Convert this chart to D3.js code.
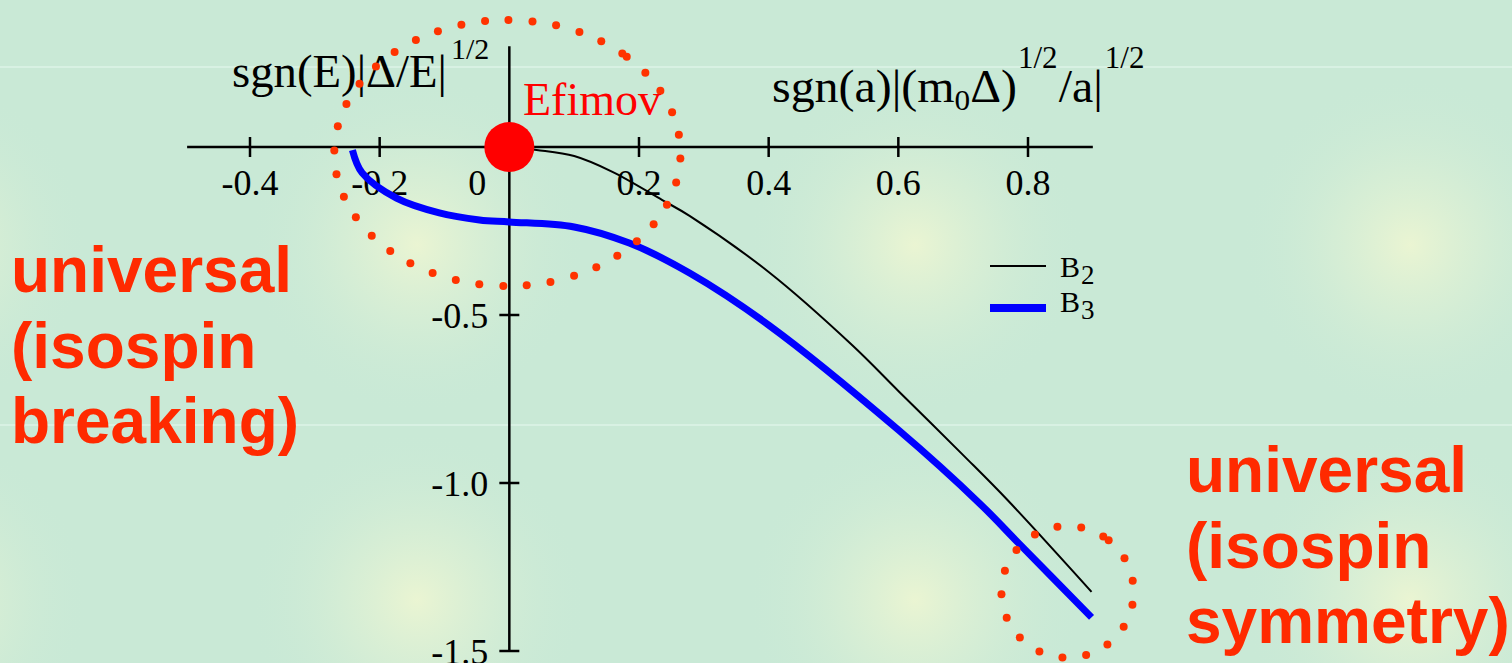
<!DOCTYPE html>
<html>
<head>
<meta charset="utf-8">
<script src="https://cdn.jsdelivr.net/npm/d3@7"></script>
<style>
  html, body { margin: 0; padding: 0; background: #c9e9d6; overflow: hidden; }
  svg { display: block; }
</style>
</head>
<body>
<svg id="chart" width="1512" height="663"></svg>
<script>
// values
const b2X = [0, 0.042, 0.1, 0.159, 0.236, 0.278, 0.4, 0.529, 0.6, 0.7, 0.768, 0.898];
const b2Y = [0, -0.009, -0.027, -0.074, -0.158, -0.205, -0.372, -0.59, -0.726, -0.917, -1.05, -1.324];
const b3X = [-0.242, -0.227, -0.174, -0.108, -0.046, 0, 0.1, 0.185, 0.278, 0.4, 0.6, 0.725, 0.787, 0.898];
const b3Y = [-0.009, -0.077, -0.152, -0.196, -0.217, -0.223, -0.238, -0.286, -0.375, -0.53, -0.842, -1.06, -1.182, -1.40];
const xTicks = [-0.4, -0.2, 0, 0.2, 0.4, 0.6, 0.8];
const xTickLabels = ["-0.4", "-0.2", "0", "0.2", "0.4", "0.6", "0.8"];
const yTicks = [-0.5, -1.0, -1.5];
const yTickLabels = ["-0.5", "-1.0", "-1.5"];
const seriesNames = ["B", "B"];
const seriesSubs = ["2", "3"];
const ringX = [-0.003, 0.861];
const ringY = [-0.018, -1.324];
const ringRX = [0.267, 0.102];
const ringRY = [0.396, 0.196];
const leftNote = ["universal", "(isospin", "breaking)"];
const rightNote = ["universal", "(isospin", "symmetry)"];

const width = 1512, height = 663;
const serif = "'Liberation Serif', 'Times New Roman', serif";
const orange = "#ff2a00";

const svg = d3.select("#chart");
const x = d3.scaleLinear().domain([-0.4, 0.8]).range([250, 1028]);
const y = d3.scaleLinear().domain([0, -1.5]).range([147, 651]);
const xExtent = [-0.497, 0.9];
const yExtent = [0.3, -1.5];

// background with soft yellow glows
const defs = svg.append("defs");
const grad = defs.append("radialGradient").attr("id", "glow");
grad.append("stop").attr("offset", "0%").attr("stop-color", "#eef6d2").attr("stop-opacity", 0.9);
grad.append("stop").attr("offset", "45%").attr("stop-color", "#e2f2d4").attr("stop-opacity", 0.45);
grad.append("stop").attr("offset", "100%").attr("stop-color", "#c9e9d6").attr("stop-opacity", 0);

svg.append("rect").attr("width", width).attr("height", height).attr("fill", "#c9e9d6");
const glowCols = [-80, 417, 915, 1410];
const glowRows = [245, 600];
svg.append("g").selectAll("circle")
  .data(d3.cross(glowCols, glowRows))
  .join("circle")
    .attr("cx", d => d[0]).attr("cy", d => d[1]).attr("r", 170)
    .attr("fill", "url(#glow)");
svg.append("g").selectAll("line")
  .data([67, 425])
  .join("line")
    .attr("x1", 0).attr("x2", width).attr("y1", d => d).attr("y2", d => d)
    .attr("stroke", "#d8f1e3").attr("stroke-width", 2);

// axes, crossing ticks
const axes = svg.append("g").attr("stroke", "#000").attr("stroke-width", 2.5);
axes.append("line")
  .attr("x1", x(xExtent[0])).attr("x2", x(xExtent[1]))
  .attr("y1", y(0)).attr("y2", y(0));
axes.append("line")
  .attr("x1", x(0)).attr("x2", x(0))
  .attr("y1", y(yExtent[0])).attr("y2", y(yExtent[1]));
axes.selectAll(".xt")
  .data(xTicks.filter(d => d !== 0))
  .join("line")
    .attr("x1", d => x(d)).attr("x2", d => x(d))
    .attr("y1", y(0) - 10).attr("y2", y(0) + 10);
axes.selectAll(".yt")
  .data(yTicks)
  .join("line")
    .attr("x1", x(0) - 10).attr("x2", x(0) + 10)
    .attr("y1", d => y(d)).attr("y2", d => y(d));

svg.append("g")
  .attr("font-family", serif).attr("font-size", 36).attr("text-anchor", "middle")
  .selectAll("text")
  .data(xTicks)
  .join("text")
    .attr("x", d => d === 0 ? x(d) - 32 : x(d))
    .attr("y", y(0) + 48)
    .text((d, i) => xTickLabels[i]);

svg.append("g")
  .attr("font-family", serif).attr("font-size", 36).attr("text-anchor", "end")
  .selectAll("text")
  .data(yTicks)
  .join("text")
    .attr("x", x(0) - 21)
    .attr("y", d => y(d))
    .attr("dy", "0.35em")
    .text((d, i) => yTickLabels[i]);

// axis titles
function fitted(x0, base, size, build, targetW) {
  const t = svg.append("text")
    .attr("font-family", serif).attr("font-size", size);
  build(t);
  const w = t.node().getBBox().width;
  const s = Math.max(0.9, Math.min(1.1, targetW / w));
  t.attr("transform", `translate(${x0},${base}) scale(${s},1)`);
  return s;
}
function sup(x0, base, size) {
  const t = svg.append("text")
    .attr("font-family", serif).attr("font-size", size)
    .attr("x", x0).attr("y", base).text("1/2");
  return x0 + t.node().getComputedTextLength();
}

fitted(232, 87, 46, t => t.text("sgn(E)|\u0394/E|"), 215);
sup(451, 59, 30);

const sx = fitted(772, 102, 46, t => {
  t.append("tspan").text("sgn(a)|(m");
  t.append("tspan").attr("font-size", 30).attr("dy", 8).text("0");
  t.append("tspan").attr("dy", -8).text("\u0394)");
}, 245);
let cx = sup(1018, 68, 31);
const tail = svg.append("text")
  .attr("font-family", serif).attr("font-size", 46).text("/a|");
const tailW = tail.node().getComputedTextLength() * sx;
tail.attr("transform", `translate(${cx + 1},102) scale(${sx},1)`);
sup(cx + 3 + tailW, 68, 31);

// curves
const line = d3.line()
  .x(d => x(d[0])).y(d => y(d[1]))
  .curve(d3.curveCatmullRom.alpha(0.5));
svg.append("path")
  .datum(d3.zip(b3X, b3Y))
  .attr("d", line)
  .attr("fill", "none").attr("stroke", "#0000ff").attr("stroke-width", 7);
svg.append("path")
  .datum(d3.zip(b2X, b2Y))
  .attr("d", line)
  .attr("fill", "none").attr("stroke", "#000").attr("stroke-width", 2);

// legend
const legend = svg.append("g").attr("font-family", serif);
const legRows = legend.selectAll("g")
  .data(seriesNames)
  .join("g")
    .attr("transform", (d, i) => `translate(990,${i === 0 ? 266 : 308})`);
legRows.append("line")
  .attr("x1", 0).attr("x2", 56)
  .attr("stroke", (d, i) => i === 0 ? "#000" : "#0000ff")
  .attr("stroke-width", (d, i) => i === 0 ? 2 : 8);
const legText = legRows.append("text")
  .attr("x", 70).attr("y", (d, i) => i === 0 ? 11 : 4)
  .attr("font-size", 30);
legText.append("tspan").text(d => d);
legText.append("tspan").attr("font-size", 27).attr("dx", 1).attr("dy", 7).text((d, i) => seriesSubs[i]);

// dotted rings
function ringDots(cx, cy, rx, ry, gap, start) {
  const n = 1440;
  const pts = d3.range(n + 1).map(i => {
    const t = start + 2 * Math.PI * i / n;
    return [cx + rx * Math.cos(t), cy + ry * Math.sin(t)];
  });
  const out = [pts[0]];
  let acc = 0, next = gap;
  for (let i = 1; i < pts.length; i++) {
    acc += Math.hypot(pts[i][0] - pts[i - 1][0], pts[i][1] - pts[i - 1][1]);
    if (acc >= next) { out.push(pts[i]); next += gap; }
  }
  return out;
}
const ringStart = [-0.81, -0.9];
ringX.forEach((rxD, i) => {
  const cxp = x(rxD), cyp = y(ringY[i]);
  const rxp = x(rxD + ringRX[i]) - cxp;
  const ryp = y(ringY[i] - ringRY[i]) - cyp;
  svg.append("g").attr("fill", "#ff3300")
    .selectAll("circle")
    .data(ringDots(cxp, cyp, rxp, ryp, 24, ringStart[i]))
    .join("circle")
      .attr("cx", d => d[0]).attr("cy", d => d[1]).attr("r", 4);
});

// Efimov point
svg.append("circle")
  .attr("cx", x(0)).attr("cy", y(0)).attr("r", 25).attr("fill", "#ff0000");
svg.append("text")
  .attr("x", 523).attr("y", 115)
  .attr("font-family", serif).attr("font-size", 46).attr("fill", "#ff0000")
  .text("Efimov");

// notes
function note(lines, x0, base) {
  svg.append("g")
    .attr("font-family", "'Liberation Sans', Arial, sans-serif")
    .attr("font-weight", "bold").attr("font-size", 64).attr("fill", orange)
    .selectAll("text")
    .data(lines)
    .join("text")
      .attr("x", x0).attr("y", (d, i) => base + i * 75.5)
      .text(d => d);
}
note(leftNote, 11, 292);
note(rightNote, 1186, 492);
</script>
</body>
</html>
